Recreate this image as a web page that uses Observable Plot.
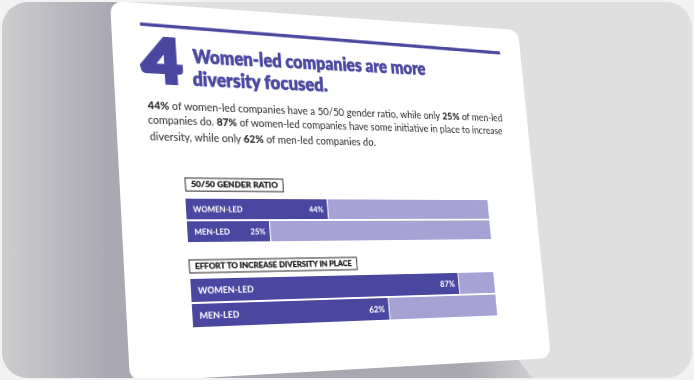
<!DOCTYPE html>
<html><head><meta charset="utf-8">
<script src="https://cdn.jsdelivr.net/npm/d3@7"></script>
<script src="https://cdn.jsdelivr.net/npm/@observablehq/plot@0.6"></script>
<style>
html,body{margin:0;padding:0;width:694px;height:380px;overflow:hidden;background:#f2f2f2;}
#frame{position:absolute;left:2px;top:2px;width:690px;height:376px;border-radius:26px;background:#dfdfdf;overflow:hidden;}
#shadow{position:absolute;left:0;top:0;}
#card{position:absolute;left:0;top:0;background:#fff;border-radius:13px;transform-origin:0 0;font-family:Lato,"Open Sans",sans-serif;}
#card .chart{position:absolute;}
</style></head><body>
<div id="frame">
<svg id="shadow" width="690" height="376">
 <defs><linearGradient id="sg" gradientUnits="userSpaceOnUse" x1="0" y1="0" x2="540" y2="0">
 <stop offset="0" stop-color="#cdcdcf"/><stop offset="0.2" stop-color="#aaa8b3"/><stop offset="0.86" stop-color="#a9a8b0"/><stop offset="1" stop-color="#d4d4d6"/></linearGradient></defs>
 <polygon points="0,0 114,0 300,200 515,356 533,380 0,380" fill="url(#sg)"/>
</svg>
<div id="card"></div>
</div>
<script>
// ---------- data ----------
const groups = ["WOMEN-LED", "MEN-LED"];
const genderRatio = [44, 25];
const diversityEffort = [87, 62];
const chartTitles = ["50/50 GENDER RATIO", "EFFORT TO INCREASE DIVERSITY IN PLACE"];
const sectionNumber = "4";
const headline = ["Women-led companies are more", "diversity focused."];
const bodyLines = [
  [["44%", true], [" of women-led companies have a 50/50 gender ratio, while only ", false], ["25%", true], [" of men-led", false]],
  [["companies do. ", false], ["87%", true], [" of women-led companies have some initiative in place to increase", false]],
  [["diversity, while only ", false], ["62%", true], [" of men-led companies do.", false]]
];

// ---------- styling ----------
const PURPLE = "#4a47a0", LIGHT = "#a6a2d4", INK = "#1f1f24";
const W = 493, H = 380, OFF = 2;

// card perspective (screen corners of the tilted card)
const quad = [[110, 1], [518, 30], [551, 358], [130, 382]].map(([x, y]) => [x - OFF, y - OFF]);
function solve(q) {
  const [[x0, y0], [x1, y1], [x2, y2], [x3, y3]] = q;
  const dx1 = x1 - x2, dx2 = x3 - x2, dx3 = x0 - x1 + x2 - x3;
  const dy1 = y1 - y2, dy2 = y3 - y2, dy3 = y0 - y1 + y2 - y3;
  const den = dx1 * dy2 - dx2 * dy1;
  const g = (dx3 * dy2 - dx2 * dy3) / den, h = (dx1 * dy3 - dx3 * dy1) / den;
  const a = x1 - x0 + g * x1, b = x3 - x0 + h * x3, c = x0;
  const d = y1 - y0 + g * y1, e = y3 - y0 + h * y3, f = y0;
  return {a: a / W, b: b / H, c, d: d / W, e: e / H, f, g: g / W, h: h / H};
}
const M = solve(quad);
function inv(sx, sy) {
  const X = sx - OFF, Y = sy - OFF, {a, b, c, d, e, f, g, h} = M;
  const A11 = a - X * g, A12 = b - X * h, B1 = X - c;
  const A21 = d - Y * g, A22 = e - Y * h, B2 = Y - f;
  const det = A11 * A22 - A12 * A21;
  return {x: (B1 * A22 - A12 * B2) / det, y: (A11 * B2 - A21 * B1) / det};
}

const card = d3.select("#card")
  .style("width", W + "px").style("height", H + "px")
  .style("transform", `matrix3d(${M.a},${M.d},0,${M.g},${M.b},${M.e},0,${M.h},0,0,1,0,${M.c},${M.f},0,1)`);

const svg = card.append("svg").attr("width", W).attr("height", H)
  .style("position", "absolute").style("left", 0).style("top", 0);

// top rule
{
  const p = inv(140, 24), q = inv(500, 53);
  svg.append("line").attr("x1", p.x).attr("y1", p.y).attr("x2", q.x).attr("y2", q.y)
    .attr("stroke", PURPLE).attr("stroke-width", 3.6);
}
function fitText(parts, sxL, syL, sxR, syR, size, weight, fill, stroke = 0) {
  const L = inv(sxL, syL), R = inv(sxR, syR);
  const t = svg.append("text").attr("x", L.x).attr("y", L.y)
    .attr("font-size", size).attr("font-weight", weight).attr("fill", fill)
    .attr("textLength", R.x - L.x).attr("lengthAdjust", "spacingAndGlyphs")
    .style("white-space", "pre");
  if (stroke) t.attr("stroke", fill).attr("stroke-width", stroke).attr("stroke-linejoin", "miter");
  for (const [s, bold] of parts) t.append("tspan").attr("font-weight", bold ? 900 : weight).text(s);
  return t;
}
// big number
fitText([[sectionNumber, false]], 143, 81.5, 183, 81.5, 62, 900, PURPLE, 4);
// headline
fitText([[headline[0], false]], 193, 63, 426, 75, 21, 800, PURPLE, 0.5);
fitText([[headline[1], false]], 193, 86, 328, 93, 21, 800, PURPLE, 0.5);
// body
const bodyAnchors = [[148, 109, 503, 125], [148, 124, 503, 137], [150, 140, 376, 147]];
bodyLines.forEach((parts, i) => {
  const [a, b, c, d] = bodyAnchors[i];
  fitText(parts, a, b, c, d, 11.2, 400, "#2a2a2e");
});

// label boxes + bar charts
function labelBox(title, tl, rightPt, bottomPt) {
  const A = inv(...tl), R = inv(...rightPt), B = inv(...bottomPt);
  const x = A.x, y = A.y, w = R.x - A.x, h = B.y - A.y;
  svg.append("rect").attr("x", x).attr("y", y).attr("width", w).attr("height", h)
    .attr("fill", "#fff").attr("stroke", "#555").attr("stroke-width", 1.3);
  svg.append("text").attr("x", x + 6).attr("y", y + h / 2).attr("dy", "0.36em")
    .attr("font-size", h * 0.58).attr("font-weight", 900).attr("fill", INK)
    .attr("stroke", INK).attr("stroke-width", 0.25)
    .attr("textLength", w - 12).attr("lengthAdjust", "spacingAndGlyphs").text(title);
}
function barChart(values, tl, rightPt, bottomPt, fontSize) {
  const A = inv(...tl), R = inv(...rightPt), B = inv(...bottomPt);
  const w = R.x - A.x, h = B.y - A.y;
  const data = groups.map((g, i) => ({group: g, value: values[i]}));
  const plot = Plot.plot({
    width: w, height: h, margin: 0,
    style: {background: "transparent", fontFamily: "Lato, 'Open Sans', sans-serif", overflow: "visible"},
    x: {domain: [0, 100], axis: null},
    y: {domain: groups, axis: null, paddingInner: 0.08, paddingOuter: 0},
    marks: [
      Plot.barX(data, {x1: "value", x2: 100, y: "group", fill: LIGHT, insetLeft: 1.2}),
      Plot.barX(data, {x1: 0, x2: "value", y: "group", fill: PURPLE}),
      Plot.text(data, {x: 0, y: "group", text: "group", textAnchor: "start", dx: 7, fill: "white", fontWeight: 900, fontSize}),
      Plot.text(data, {x: "value", y: "group", text: d => d.value + "%", textAnchor: "end", dx: -5, fill: "white", fontWeight: 900, fontSize})
    ]
  });
  card.append("div").attr("class", "chart")
    .style("left", A.x + "px").style("top", A.y + "px").style("width", w + "px").style("height", h + "px")
    .node().appendChild(plot);
}
labelBox(chartTitles[0], [185, 178], [283, 184], [185, 191]);
barChart(genderRatio, [185, 199], [489, 220], [187, 243], 8.5);
labelBox(chartTitles[1], [189, 260], [357, 266], [189, 273]);
barChart(diversityEffort, [190, 278], [496, 303], [192, 328], 9.5);
</script>
</body></html>
